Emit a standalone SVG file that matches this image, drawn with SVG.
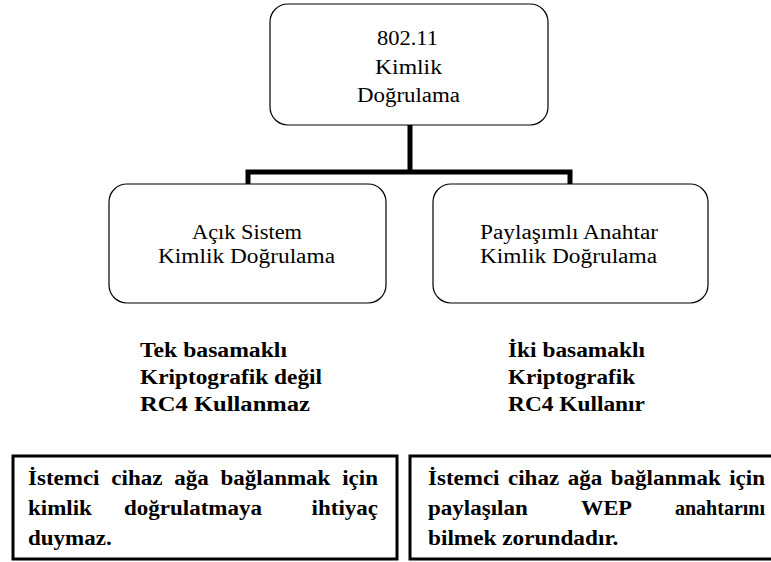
<svg xmlns="http://www.w3.org/2000/svg" width="771" height="562" viewBox="0 0 771 562">
  <style>
    .box { fill: #ffffff; stroke: #000000; stroke-width: 1.2; }
    .note { fill: #ffffff; stroke: #000000; stroke-width: 3; }
    .link { fill: none; stroke: #000000; stroke-width: 5; stroke-linejoin: miter; stroke-linecap: butt; }
    .t { font-family: "Liberation Serif", "Times New Roman", serif; font-size: 20px; fill: #000000; }
    .b { font-weight: bold; }
    .m { text-anchor: middle; }
    .e { text-anchor: end; }
  </style>
  <rect width="771" height="562" fill="#ffffff"/>

  <!-- tree connectors -->
  <g id="connectors">
    <path class="link" d="M410,125 V172"/>
    <path class="link" d="M248,185 V172 H570 V185"/>
  </g>

  <!-- root node -->
  <g id="root">
    <rect class="box" x="270" y="4" width="278" height="121" rx="18" ry="18"/>
    <text class="t" x="377" y="45" textLength="61" lengthAdjust="spacingAndGlyphs">802.11</text>
    <text class="t" x="375" y="74" textLength="67" lengthAdjust="spacingAndGlyphs">Kimlik</text>
    <text class="t" x="357" y="102" textLength="103" lengthAdjust="spacingAndGlyphs">Doğrulama</text>
  </g>

  <!-- open system node -->
  <g id="open-system">
    <rect class="box" x="109" y="184" width="277" height="119" rx="18" ry="18"/>
    <text class="t" x="192" y="239" textLength="110" lengthAdjust="spacingAndGlyphs">Açık Sistem</text>
    <text class="t" x="158" y="263" textLength="177" lengthAdjust="spacingAndGlyphs">Kimlik Doğrulama</text>
  </g>

  <!-- shared key node -->
  <g id="shared-key">
    <rect class="box" x="433" y="184" width="275" height="119" rx="18" ry="18"/>
    <text class="t" x="480" y="239" textLength="178" lengthAdjust="spacingAndGlyphs">Paylaşımlı Anahtar</text>
    <text class="t" x="480" y="263" textLength="177" lengthAdjust="spacingAndGlyphs">Kimlik Doğrulama</text>
  </g>

  <!-- properties, open system -->
  <g id="open-props">
    <text class="t b" x="140" y="357" textLength="147" lengthAdjust="spacingAndGlyphs">Tek basamaklı</text>
    <text class="t b" x="140" y="384" textLength="182" lengthAdjust="spacingAndGlyphs">Kriptografik değil</text>
    <text class="t b" x="140" y="411" textLength="170" lengthAdjust="spacingAndGlyphs">RC4 Kullanmaz</text>
  </g>

  <!-- properties, shared key -->
  <g id="shared-props">
    <text class="t b" x="508" y="357" textLength="137" lengthAdjust="spacingAndGlyphs">İki basamaklı</text>
    <text class="t b" x="508" y="384" textLength="127" lengthAdjust="spacingAndGlyphs">Kriptografik</text>
    <text class="t b" x="508" y="411" textLength="137" lengthAdjust="spacingAndGlyphs">RC4 Kullanır</text>
  </g>

  <!-- note, open system (justified lines) -->
  <g id="open-note">
    <rect class="note" x="13" y="456" width="384" height="103"/>
    <text class="t b" x="28" y="485" textLength="71.5" lengthAdjust="spacingAndGlyphs">İstemci</text>
    <text class="t b" x="111.3" y="485" textLength="51.1" lengthAdjust="spacingAndGlyphs">cihaz</text>
    <text class="t b" x="174.2" y="485" textLength="34.5" lengthAdjust="spacingAndGlyphs">ağa</text>
    <text class="t b" x="220.5" y="485" textLength="109.9" lengthAdjust="spacingAndGlyphs">bağlanmak</text>
    <text class="t b" x="342.2" y="485" textLength="35.8" lengthAdjust="spacingAndGlyphs">için</text>
    <text class="t b" x="28" y="515" textLength="63.9" lengthAdjust="spacingAndGlyphs">kimlik</text>
    <text class="t b" x="124" y="515" textLength="138" lengthAdjust="spacingAndGlyphs">doğrulatmaya</text>
    <text class="t b" x="311.6" y="515" textLength="66.4" lengthAdjust="spacingAndGlyphs">ihtiyaç</text>
    <text class="t b" x="28" y="545" textLength="83.7" lengthAdjust="spacingAndGlyphs">duymaz.</text>
  </g>

  <!-- note, shared key (justified lines) -->
  <g id="shared-note">
    <rect class="note" x="410" y="456" width="364" height="103"/>
    <text class="t b" x="428" y="485" textLength="71.5" lengthAdjust="spacingAndGlyphs">İstemci</text>
    <text class="t b" x="508" y="485" textLength="51.1" lengthAdjust="spacingAndGlyphs">cihaz</text>
    <text class="t b" x="567.7" y="485" textLength="34.5" lengthAdjust="spacingAndGlyphs">ağa</text>
    <text class="t b" x="610.8" y="485" textLength="109.9" lengthAdjust="spacingAndGlyphs">bağlanmak</text>
    <text class="t b" x="729.2" y="485" textLength="35.8" lengthAdjust="spacingAndGlyphs">için</text>
    <text class="t b" x="428" y="515" textLength="99.7" lengthAdjust="spacingAndGlyphs">paylaşılan</text>
    <text class="t b" x="581" y="515" textLength="51" lengthAdjust="spacingAndGlyphs">WEP</text>
    <text class="t b" x="675" y="515" textLength="90" lengthAdjust="spacingAndGlyphs">anahtarını</text>
    <text class="t b" x="428" y="545" textLength="190.4" lengthAdjust="spacingAndGlyphs">bilmek zorundadır.</text>
  </g>
</svg>
